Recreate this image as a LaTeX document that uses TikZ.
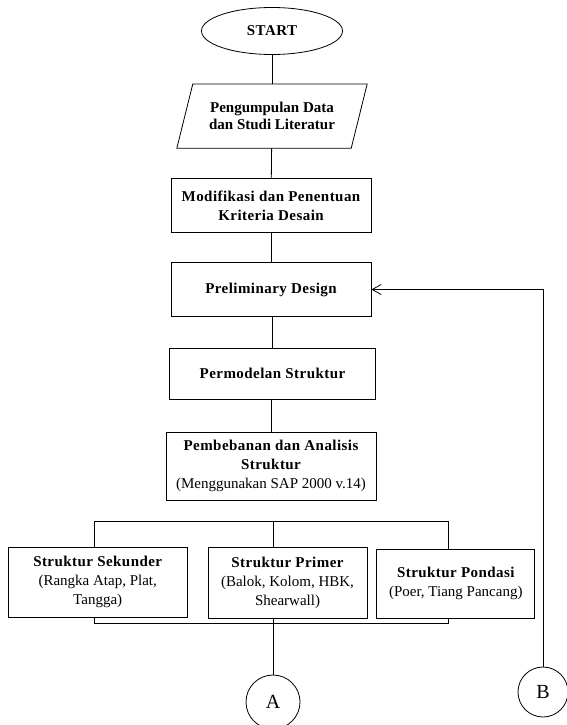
\documentclass[tikz,border=0pt]{standalone}
\usepackage{fontspec}
\setmainfont{Liberation Serif}
\newfontfamily\headfont{Liberation Serif}[LetterSpace=3.0]
\usepackage{tikz}
\usetikzlibrary{positioning,shapes.geometric,arrows.meta}

\tikzset{
    flowline/.style={line width=0.8pt},
    box/.style={draw, rectangle, line width=0.8pt, align=center, inner sep=2pt,
        font=\fontsize{15}{19}\selectfont},
    terminal/.style={draw, ellipse, line width=0.8pt, inner sep=0pt,
        minimum width=141pt, minimum height=47pt, font=\fontsize{15}{19}\selectfont\headfont\bfseries},
    inputbox/.style={rectangle, align=center, inner sep=0pt,
        minimum width=174pt, minimum height=64pt, font=\fontsize{15}{17}\selectfont\bfseries},
    connector/.style={draw, circle, line width=0.8pt, inner sep=0pt,
        font=\fontsize{20}{24}\selectfont}
}
\newcommand{\hd}{\headfont\bfseries}

\begin{document}
\begin{tikzpicture}[node distance=30pt]
    \useasboundingbox (0pt,0pt) rectangle (567pt,-725pt);

    % Main column
    \node[terminal] (start) at (272pt,-31pt) {START};
    \node[inputbox, below=29pt of start] (data) {Pengumpulan Data\\dan Studi Literatur};
    \draw[flowline] ([xshift=8pt]data.north west) -- ([xshift=8pt]data.north east)
        -- ([xshift=-8pt]data.south east) -- ([xshift=-8pt]data.south west) -- cycle;
    \node[box, minimum width=200pt, minimum height=54pt, below=30pt of data, xshift=-1pt] (modif)
        {\hd Modifikasi dan Penentuan\\\hd Kriteria Desain};
    \node[box, minimum width=200pt, minimum height=54pt, below=29pt of modif] (prelim)
        {\hd Preliminary Design};
    \node[box, minimum width=206pt, minimum height=51pt, below=31pt of prelim, xshift=1.5pt] (model)
        {\hd Permodelan Struktur};
    \node[box, minimum width=210pt, minimum height=68pt, below=32pt of model, xshift=-1.5pt] (beban)
        {\hd Pembebanan dan Analisis\\\hd Struktur\\(Menggunakan SAP 2000 v.14)};

    % Structure groups
    \node[box, minimum width=159pt, minimum height=71pt, below=46pt of beban, xshift=16.5pt] (primer)
        {\hd Struktur Primer\\(Balok, Kolom, HBK,\\Shearwall)};
    \node[box, minimum width=179pt, minimum height=70pt, left=20pt of primer] (sekunder)
        {\hd Struktur Sekunder\\(Rangka Atap, Plat,\\Tangga)};
    \node[box, minimum width=158pt, minimum height=69pt, right=9pt of primer, yshift=-1pt] (pondasi)
        {\hd Struktur Pondasi\\(Poer, Tiang Pancang)};

    % Off-page connectors
    \node[connector, minimum size=54pt] (conA) at (273pt,-702pt) {A};
    \node[connector, minimum size=50pt] (conB) at (543pt,-692pt) {B};

    % Bus points
    \coordinate (topL) at (94pt,-521pt);
    \coordinate (topR) at (448pt,-521pt);
    \coordinate (botL) at (94pt,-623pt);
    \coordinate (botR) at (448pt,-623pt);

    % Arrows
    \draw[flowline] (start) -- (data);
    \draw[flowline] (data) -- (modif);
    \draw[flowline] (modif) -- (prelim);
    \draw[flowline] (prelim.south -| model) -- (model);
    \draw[flowline] (model.south -| beban) -- (beban);
    \draw[flowline] (beban.south -| conA) -- (beban.south -| conA |- topL);
    \draw[flowline] (topL |- sekunder.north) -- (topL) -- (topR) -- (topR |- pondasi.north);
    \draw[flowline] (conA |- topL) -- (conA |- primer.north);
    \draw[flowline] (botL |- sekunder.south) -- (botL) -- (botR) -- (botR |- pondasi.south);
    \draw[flowline] (conA |- primer.south) -- (conA);
    \draw[flowline, -{Straight Barb[length=9pt,width=10pt]}] (conB) |- (prelim);
\end{tikzpicture}
\end{document}
